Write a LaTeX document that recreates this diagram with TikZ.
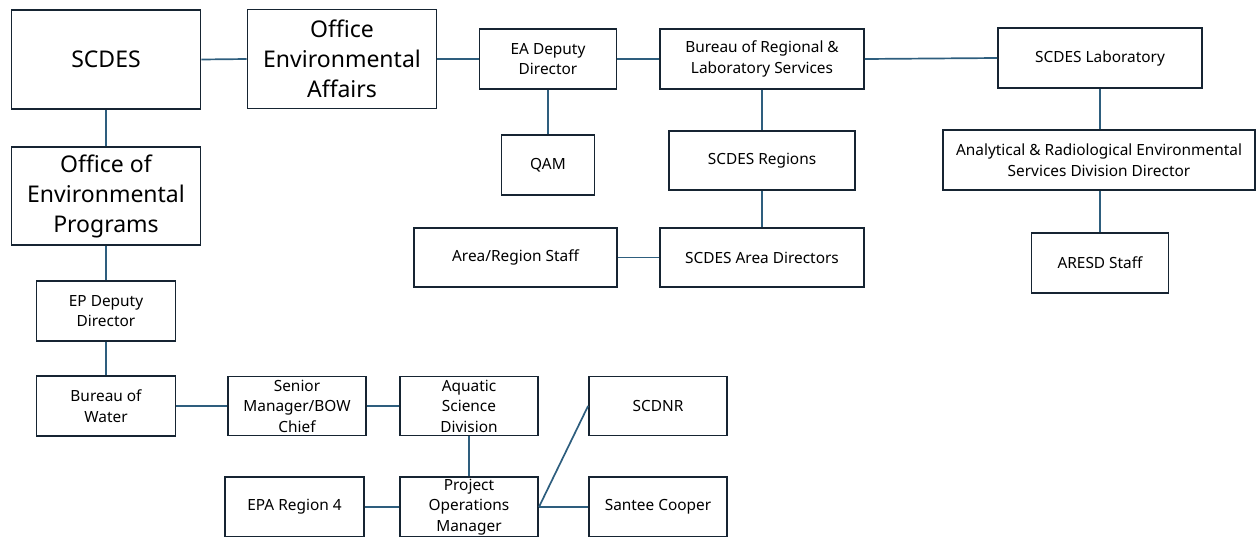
\documentclass[tikz,border=0pt]{standalone}
\usepackage{fontspec}
\setmainfont{Noto Sans}
\usetikzlibrary{positioning}
\definecolor{BoxLine}{RGB}{22,36,50}
\definecolor{LinkBlue}{RGB}{46,94,126}

\tikzset{
  orgbox/.style={draw=BoxLine, line width=1.9pt, fill=white, inner sep=0pt,
                 align=center, font=\fontsize{15.4}{20.5}\selectfont},
  bigbox/.style={orgbox, font=\fontsize{23}{30}\selectfont},
  link/.style={draw=LinkBlue, line width=1.7pt}
}

\begin{document}
\begin{tikzpicture}[x=1pt, y=-1pt]
  \useasboundingbox (0,0) rectangle (1257,536);

  % top row
  \node[bigbox, minimum width=189pt, minimum height=99pt] (scdes) at (106,59.5) {SCDES};
  \node[bigbox, minimum width=189pt, minimum height=99pt] (oea) at (342,59) {Office\\Environmental\\Affairs};
  \node[orgbox, minimum width=137pt, minimum height=60pt] (eadep) at (548,59) {EA Deputy\\Director};
  \node[orgbox, minimum width=204pt, minimum height=60pt] (brls) at (762,59) {Bureau of Regional \&\\Laboratory Services};
  \node[orgbox, minimum width=204pt, minimum height=60pt] (lab) at (1100,58) {SCDES Laboratory};

  % environmental affairs branch
  \node[orgbox, minimum width=93pt, minimum height=60pt] (qam) at (548,165) {QAM};
  \node[orgbox, minimum width=186pt, minimum height=59pt] (regions) at (762,160.5) {SCDES Regions};
  \node[orgbox, minimum width=204pt, minimum height=59pt] (areadir) at (762,257.5) {SCDES Area Directors};
  \node[orgbox, minimum width=203pt, minimum height=59pt] (arstaff) at (515.5,257.5) {Area/Region Staff};
  \node[orgbox, minimum width=312pt, minimum height=60pt] (aresdir) at (1099,160) {Analytical \& Radiological Environmental\\Services Division Director};
  \node[orgbox, minimum width=137pt, minimum height=60pt] (aresd) at (1100,263) {ARESD Staff};

  % environmental programs branch
  \node[bigbox, minimum width=189pt, minimum height=98pt] (oep) at (106,196) {Office of\\Environmental\\Programs};
  \node[orgbox, minimum width=139pt, minimum height=60pt] (epdep) at (106,311) {EP Deputy\\Director};
  \node[orgbox, minimum width=139pt, minimum height=60pt] (bow) at (106,406) {Bureau of\\Water};
  \node[orgbox, minimum width=138pt, minimum height=59pt] (senior) at (297,406) {Senior\\Manager/BOW\\Chief};
  \node[orgbox, minimum width=138pt, minimum height=59pt] (aquatic) at (469,406) {Aquatic\\Science\\Division};
  \node[orgbox, minimum width=138pt, minimum height=59pt] (scdnr) at (658,406) {SCDNR};
  \node[orgbox, minimum width=139pt, minimum height=60pt] (epa) at (294.5,507) {EPA Region 4};
  \node[orgbox, minimum width=138pt, minimum height=60pt] (pom) at (469,507) {Project\\Operations\\Manager};
  \node[orgbox, minimum width=138pt, minimum height=60pt] (santee) at (658,507) {Santee Cooper};

  % connectors
  \draw[link] (scdes.east) -- (oea.west);
  \draw[link] (oea.east) -- (eadep.west);
  \draw[link] (eadep.east) -- (brls.west);
  \draw[link] (brls.east) -- (lab.west);
  \draw[link] (eadep.south) -- (qam.north);
  \draw[link] (brls.south) -- (regions.north);
  \draw[link] (regions.south) -- (areadir.north);
  \draw[link] (areadir.west) -- (arstaff.east);
  \draw[link] (lab.south) -- (lab.south |- aresdir.north);
  \draw[link] (aresd.north) -- (aresd.north |- aresdir.south);
  \draw[link] (scdes.south) -- (oep.north);
  \draw[link] (oep.south) -- (epdep.north);
  \draw[link] (epdep.south) -- (bow.north);
  \draw[link] (bow.east) -- (senior.west);
  \draw[link] (senior.east) -- (aquatic.west);
  \draw[link] (aquatic.south) -- (pom.north);
  \draw[link] (epa.east) -- (pom.west);
  \draw[link] (pom.east) -- (scdnr.west);
  \draw[link] (pom.east) -- (santee.west);
\end{tikzpicture}
\end{document}
